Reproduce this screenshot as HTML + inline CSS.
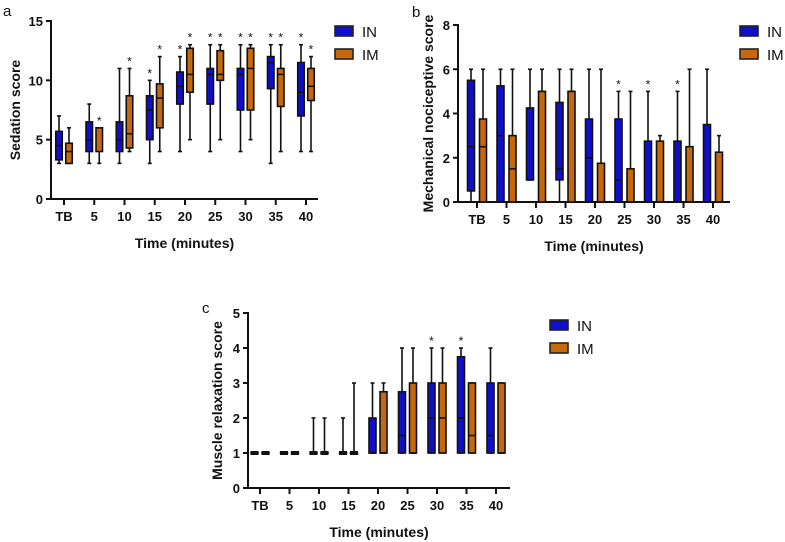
<!DOCTYPE html>
<html><head><meta charset="utf-8"><style>
body{margin:0;background:#fff}
svg{display:block;font-family:"Liberation Sans",Arial,sans-serif}
text{fill:#111}
text.b{font-weight:bold}
</style></head><body>
<svg id="s" width="785" height="542" viewBox="0 0 785 542"></svg>
<script>
const categories=["TB","5","10","15","20","25","30","35","40"];
// [max, q3, median, q1, min]
const aIN=[[7,5.7,4.5,3.3,3],[8,6.5,5,4,3],[11,6.5,5,4,3],[10,8.7,7.5,5,3],[12,10.7,9.5,8,4],[13,11,10.5,8,4],[13,11,10.5,7.5,4],[13,12,11.5,9.3,3],[13,11.5,9,7,4]];
const aIM=[[6,4.7,4,3,3],[6,6,6,4,3],[11,8.7,5.5,4.3,4],[12,9.7,8.5,6,4],[13,12.7,10.5,9,5],[13,12.5,10.5,10,5],[13,12.7,11,7.5,5],[13,11,10.5,7.8,4],[12,11,9.5,8.3,4]];
const aStarIN=[0,0,0,1,1,1,1,1,1];
const aStarIM=[0,1,1,1,1,1,1,1,1];
const bIN=[[6,5.5,2.5,0.5,0],[6,5.25,3,0,0],[6,4.25,1,1,1],[6,4.5,1.5,1,0],[6,3.75,2,0,0],[5,3.75,1,0,0],[5,2.75,0,0,0],[5,2.75,0,0,0],[6,3.5,0,0,0]];
const bIM=[[6,3.75,2.5,0,0],[6,3,1.5,0,0],[6,5,5,0,0],[6,5,5,0,0],[6,1.75,0,0,0],[5,1.5,0,0,0],[3,2.75,0,0,0],[6,2.5,0,0,0],[3,2.25,0,0,0]];
const bStarIN=[0,0,0,0,0,1,1,1,0];
const bStarIM=[0,0,0,0,0,0,0,0,0];
const cIN=[[1,1,1,1,1],[1,1,1,1,1],[2,1,1,1,1],[2,1,1,1,1],[3,2,1,1,1],[4,2.75,1.5,1,1],[4,3,2,1,1],[4,3.75,2,1,1],[4,3,1.5,1,1]];
const cIM=[[1,1,1,1,1],[1,1,1,1,1],[2,1,1,1,1],[3,1,1,1,1],[3,2.75,1,1,1],[4,3,1,1,1],[4,3,2,1,1],[3,3,1.5,1,1],[3,3,1,1,1]];
const cStarIN=[0,0,0,0,0,0,1,1,0];
const cStarIM=[0,0,0,0,0,0,0,0,0];
const aTicks=[0,5,10,15], bTicks=[0,2,4,6,8], cTicks=[0,1,2,3,4,5];

const NS="http://www.w3.org/2000/svg", S=document.getElementById('s');
function el(t,a,p){const e=document.createElementNS(NS,t);for(const k in a)e.setAttribute(k,a[k]);(p||S).appendChild(e);return e;}
function panel(P){
  const g=el('g',{});
  
  
  const y=v=>P.y0+(P.y1-P.y0)*(v-P.vmin)/(P.vmax-P.vmin);
  const x=i=>P.c0+i*P.dx;
  const ya=el('line',{x1:P.ax,y1:P.y1-1,x2:P.ax,y2:P.y0+1,stroke:'#111','stroke-width':2},g);
  
  const xa=el('line',{x1:P.ax-1,y1:P.y0,x2:P.xend,y2:P.y0,stroke:'#111','stroke-width':2},g);
  
  P.ticks.forEach(t=>{
    el('line',{x1:P.ax-5,x2:P.ax,y1:y(t),y2:y(t),stroke:'#111','stroke-width':2},g);
    const tx=el('text',{x:P.ax-8,y:y(t)+5,'text-anchor':'end','font-size':13,class:'b'},g);tx.textContent=t;
    
  });
  categories.forEach((c,i)=>{
    el('line',{x1:x(i),x2:x(i),y1:P.y0,y2:P.y0+6,stroke:'#111','stroke-width':2},g);
    const tx=el('text',{x:x(i),y:P.y0+22,'text-anchor':'middle','font-size':13,class:'b'},g);tx.textContent=c;
    
  });
  const series=[[P.IN,P.sIN,'#1010cc',-P.off,'in'],[P.IM,P.sIM,'#c8680c',P.off,'im']];
  series.forEach(([d,st,col,o,nm])=>{
    d.forEach((v,i)=>{
      const cx=x(i)+o,w=P.bw;
      const [mx,q3,md,q1,mn]=v;
      const bg=el('g',{},g);
      
      
      el('line',{x1:cx,x2:cx,y1:y(mx),y2:y(mn),stroke:'#111','stroke-width':1.6},bg);
      el('line',{x1:cx-2,x2:cx+2,y1:y(mx),y2:y(mx),stroke:'#111','stroke-width':1.6},bg);
      el('line',{x1:cx-2,x2:cx+2,y1:y(mn),y2:y(mn),stroke:'#111','stroke-width':1.6},bg);
      el('rect',{x:cx-w/2,y:y(q3),width:w,height:Math.max(y(q1)-y(q3),0.01),fill:col,stroke:'#111','stroke-width':1.6},bg);
      el('line',{x1:cx-w/2,x2:cx+w/2,y1:y(md),y2:y(md),stroke:'#111','stroke-width':1.6},bg);
      if(q3===q1) el('rect',{x:cx-w/2-0.5,y:y(q3)-2,width:w+1,height:4,fill:'#111'},bg);
      if(st[i]){const s=el('text',{x:cx,y:y(mx)-3,'text-anchor':'middle','font-size':12},bg);s.textContent='*';}
    });
  });
  const yt=el('text',{transform:`translate(${P.ytx},${(P.y0+P.y1)/2}) rotate(-90)`,'text-anchor':'middle','font-size':14,class:'b'},g);
  yt.textContent=P.ytitle;
  const xt=el('text',{x:(P.ax+P.xend)/2,y:P.y0+49,'text-anchor':'middle','font-size':14,class:'b'},g);
  xt.textContent='Time (minutes)';
  const lt=el('text',{x:P.lx,y:P.ly,'font-size':15},g);
  lt.textContent=P.letter;
  [['IN','#1010cc',0],['IM','#c8680c',1]].forEach(([n,c,k])=>{
    const lg=el('g',{},g);
    
    
    el('rect',{x:P.legx,y:P.legy+k*23-5,width:18,height:10,fill:c,stroke:'#222','stroke-width':1.6},lg);
    const t=el('text',{x:P.legx+27,y:P.legy+k*23+6,'font-size':15},lg);t.textContent=n;
  });
}
panel({name:'panel-a-sedation',IN:aIN,IM:aIM,sIN:aStarIN,sIM:aStarIM,ticks:aTicks,vmin:0,vmax:15,y0:199,y1:21,ax:51,xend:318,c0:64,dx:30.25,off:5,bw:6.5,ytitle:'Sedation score',ytx:20,letter:'a',lx:3,ly:16,legx:335,legy:31});
panel({name:'panel-b-nociceptive',IN:bIN,IM:bIM,sIN:bStarIN,sIM:bStarIM,ticks:bTicks,vmin:0,vmax:8,y0:202,y1:25,ax:458,xend:730,c0:477,dx:29.5,off:6,bw:7,ytitle:'Mechanical nociceptive score',ytx:433,letter:'b',lx:412,ly:17,legx:740,legy:31});
panel({name:'panel-c-muscle',IN:cIN,IM:cIM,sIN:cStarIN,sIM:cStarIM,ticks:cTicks,vmin:0,vmax:5,y0:488,y1:313,ax:248,xend:510,c0:260,dx:29.5,off:5.5,bw:7,ytitle:'Muscle relaxation score',ytx:222,letter:'c',lx:202,ly:313,legx:550,legy:325});
</script>
</body></html>
